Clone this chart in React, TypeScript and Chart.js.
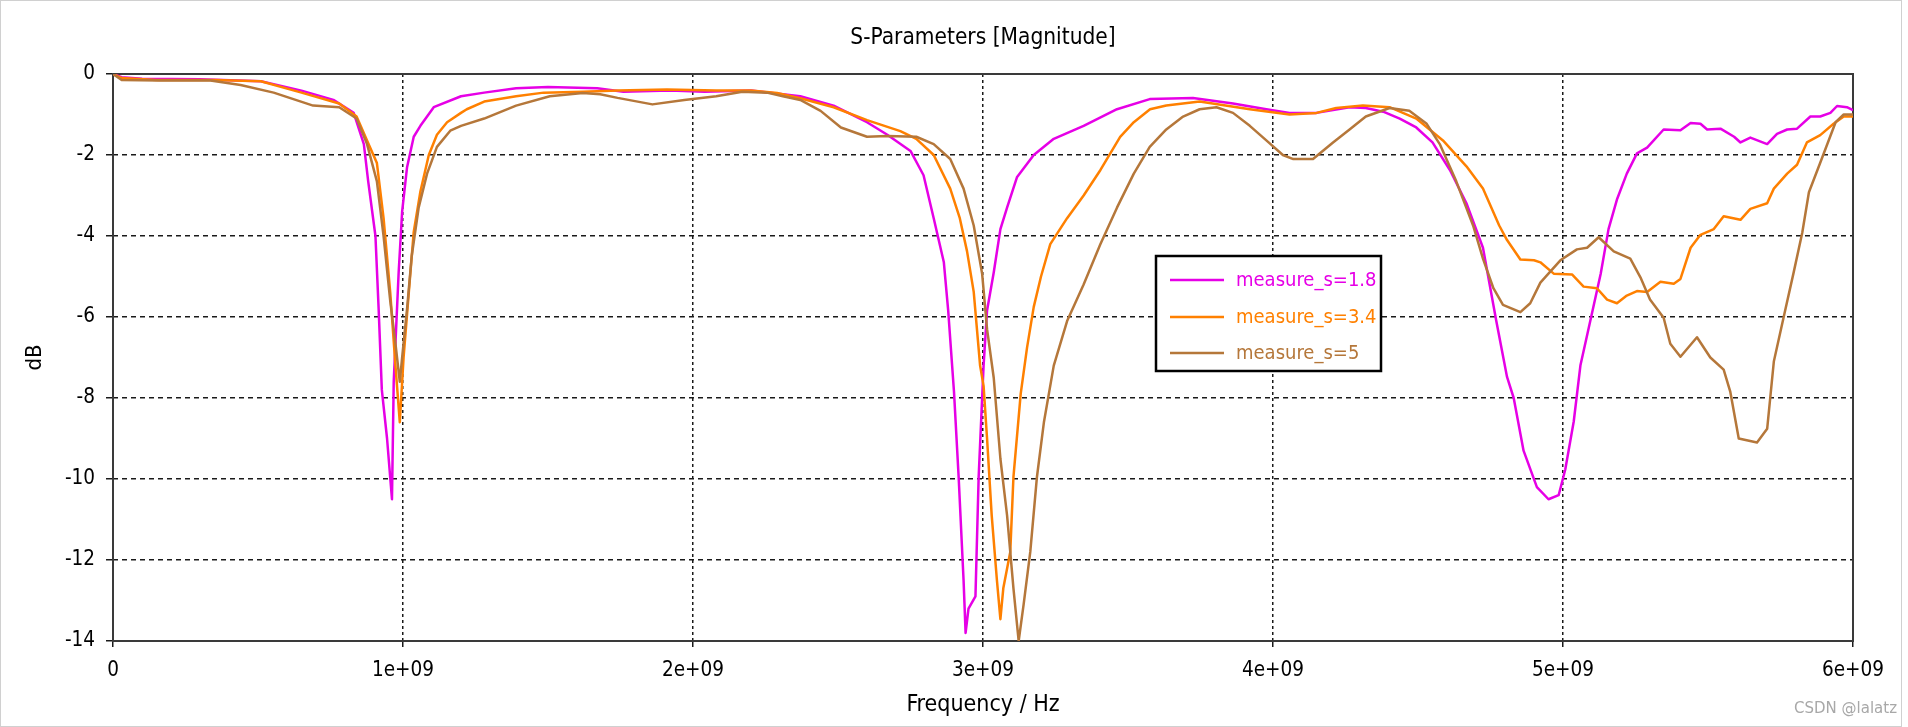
import React, { useEffect, useRef } from 'react';
import { Chart, registerables } from 'chart.js';

Chart.register(...registerables);

// ---------- data (frequency in GHz, magnitude in dB) ----------
const seriesLabels = ['measure_s=1.8', 'measure_s=3.4', 'measure_s=5'];
const seriesColors = ['#E600E6', '#FF8000', '#B5773A'];

const s18Freq = [0, 0.03, 0.1, 0.3, 0.51, 0.65, 0.76, 0.83, 0.865, 0.88, 0.905, 0.916, 0.927, 0.945, 0.962, 0.968, 0.985, 0.997, 1.014, 1.037, 1.06, 1.106, 1.2, 1.28, 1.39, 1.5, 1.67, 1.76, 1.92, 2.04, 2.2, 2.31, 2.37, 2.485, 2.6, 2.67, 2.75, 2.795, 2.83, 2.865, 2.88, 2.9, 2.916, 2.933, 2.94, 2.95, 2.974, 2.985, 3.002, 3.014, 3.037, 3.06, 3.083, 3.117, 3.175, 3.244, 3.347, 3.462, 3.575, 3.724, 3.862, 3.977, 4.057, 4.15, 4.264, 4.32, 4.38, 4.437, 4.494, 4.55, 4.61, 4.667, 4.724, 4.77, 4.807, 4.83, 4.864, 4.91, 4.95, 4.985, 5.008, 5.037, 5.06, 5.094, 5.13, 5.157, 5.186, 5.22, 5.255, 5.29, 5.347, 5.405, 5.44, 5.474, 5.497, 5.543, 5.59, 5.612, 5.646, 5.704, 5.738, 5.773, 5.807, 5.853, 5.887, 5.922, 5.945, 5.979, 6.0];
const s18Db = [0, -0.08, -0.12, -0.13, -0.18, -0.41, -0.64, -0.96, -1.73, -2.65, -4.0, -5.8, -7.8, -9.0, -10.5, -7.6, -4.9, -3.4, -2.3, -1.55, -1.28, -0.82, -0.55, -0.46, -0.35, -0.32, -0.35, -0.44, -0.41, -0.44, -0.41, -0.5, -0.55, -0.78, -1.19, -1.5, -1.9, -2.5, -3.56, -4.65, -5.84, -7.85, -9.95, -12.5, -13.8, -13.2, -12.9, -9.95, -7.2, -5.84, -4.9, -3.83, -3.3, -2.55, -2.0, -1.6, -1.28, -0.87, -0.62, -0.59, -0.73, -0.87, -0.96, -0.96, -0.82, -0.84, -0.93, -1.1, -1.32, -1.69, -2.37, -3.19, -4.29, -6.1, -7.48, -8.0, -9.3, -10.2, -10.5, -10.4, -9.76, -8.58, -7.2, -6.1, -4.93, -3.83, -3.1, -2.46, -1.96, -1.82, -1.37, -1.39, -1.21, -1.23, -1.37, -1.35, -1.55, -1.69, -1.57, -1.73, -1.48, -1.37, -1.35, -1.05, -1.05, -0.96, -0.79, -0.82, -0.89];

const s34Freq = [0, 0.03, 0.15, 0.35, 0.51, 0.65, 0.78, 0.84, 0.876, 0.91, 0.933, 0.956, 0.974, 0.989, 1.002, 1.02, 1.037, 1.06, 1.089, 1.117, 1.152, 1.2, 1.22, 1.28, 1.39, 1.485, 1.62, 1.74, 1.91, 2.08, 2.2, 2.29, 2.37, 2.485, 2.6, 2.715, 2.77, 2.83, 2.887, 2.92, 2.945, 2.968, 2.99, 3.002, 3.014, 3.03, 3.048, 3.06, 3.07, 3.094, 3.105, 3.13, 3.152, 3.175, 3.2, 3.232, 3.29, 3.347, 3.405, 3.473, 3.52, 3.576, 3.632, 3.747, 3.92, 4.057, 4.15, 4.218, 4.31, 4.402, 4.494, 4.586, 4.667, 4.724, 4.78, 4.807, 4.853, 4.9, 4.922, 4.968, 5.031, 5.071, 5.117, 5.152, 5.186, 5.22, 5.255, 5.29, 5.336, 5.382, 5.405, 5.44, 5.474, 5.52, 5.554, 5.612, 5.646, 5.704, 5.727, 5.773, 5.807, 5.841, 5.887, 5.933, 5.968, 6.0];
const s34Db = [0, -0.1, -0.15, -0.15, -0.18, -0.46, -0.73, -1.05, -1.64, -2.2, -3.56, -5.4, -7.2, -8.6, -7.0, -5.4, -3.9, -2.9, -2.0, -1.5, -1.19, -0.96, -0.87, -0.68, -0.55, -0.46, -0.44, -0.41, -0.38, -0.41, -0.41, -0.47, -0.6, -0.82, -1.14, -1.41, -1.6, -2.0, -2.83, -3.56, -4.38, -5.38, -7.2, -7.7, -9.0, -10.9, -12.5, -13.46, -12.7, -11.8, -9.95, -7.9, -6.75, -5.75, -5.0, -4.2, -3.56, -3.0, -2.37, -1.55, -1.19, -0.87, -0.78, -0.68, -0.87, -1.0, -0.96, -0.84, -0.78, -0.82, -1.1, -1.64, -2.28, -2.83, -3.74, -4.1, -4.58, -4.6, -4.65, -4.93, -4.95, -5.25, -5.29, -5.57, -5.66, -5.47, -5.36, -5.38, -5.13, -5.18, -5.06, -4.29, -3.97, -3.83, -3.51, -3.6, -3.33, -3.19, -2.83, -2.46, -2.24, -1.69, -1.51, -1.23, -1.05, -1.05];

const s5Freq = [0, 0.03, 0.16, 0.336, 0.44, 0.554, 0.69, 0.78, 0.84, 0.876, 0.91, 0.933, 0.956, 0.974, 0.989, 0.997, 1.014, 1.03, 1.054, 1.083, 1.117, 1.163, 1.2, 1.28, 1.39, 1.506, 1.62, 1.68, 1.74, 1.86, 1.97, 2.08, 2.17, 2.255, 2.31, 2.37, 2.44, 2.51, 2.6, 2.67, 2.77, 2.83, 2.887, 2.933, 2.968, 2.997, 3.014, 3.037, 3.06, 3.083, 3.105, 3.123, 3.14, 3.163, 3.186, 3.21, 3.244, 3.29, 3.347, 3.405, 3.462, 3.52, 3.575, 3.632, 3.69, 3.747, 3.805, 3.862, 3.92, 3.977, 4.034, 4.07, 4.138, 4.207, 4.264, 4.32, 4.402, 4.47, 4.53, 4.575, 4.632, 4.69, 4.724, 4.76, 4.793, 4.853, 4.887, 4.922, 4.956, 4.991, 5.048, 5.083, 5.123, 5.175, 5.232, 5.267, 5.3, 5.347, 5.37, 5.405, 5.462, 5.508, 5.554, 5.577, 5.606, 5.669, 5.704, 5.727, 5.761, 5.796, 5.825, 5.848, 5.887, 5.94, 5.968, 6.0];
const s5Db = [0, -0.15, -0.16, -0.16, -0.27, -0.46, -0.78, -0.82, -1.1, -1.73, -2.65, -4.0, -5.6, -6.66, -7.6, -7.0, -5.8, -4.5, -3.3, -2.46, -1.8, -1.4, -1.28, -1.1, -0.78, -0.55, -0.47, -0.5, -0.59, -0.75, -0.64, -0.55, -0.44, -0.46, -0.55, -0.64, -0.91, -1.32, -1.55, -1.53, -1.55, -1.73, -2.1, -2.83, -3.74, -4.93, -6.3, -7.5, -9.5, -10.9, -12.7, -14.0, -13.1, -11.8, -9.95, -8.6, -7.2, -6.1, -5.2, -4.2, -3.3, -2.46, -1.8, -1.37, -1.05, -0.87, -0.82, -0.96, -1.28, -1.64, -2.0, -2.1, -2.1, -1.69, -1.37, -1.05, -0.84, -0.91, -1.23, -1.73, -2.65, -3.74, -4.56, -5.29, -5.7, -5.88, -5.66, -5.15, -4.88, -4.6, -4.33, -4.29, -4.03, -4.38, -4.56, -5.02, -5.57, -6.02, -6.66, -6.98, -6.5, -7.0, -7.3, -7.85, -9.0, -9.1, -8.76, -7.1, -6.0, -4.88, -3.92, -2.92, -2.19, -1.19, -1.0, -1.0];

const xTickLabels = ['0', '1e+09', '2e+09', '3e+09', '4e+09', '5e+09', '6e+09'];
const yTickLabels = ['0', '-2', '-4', '-6', '-8', '-10', '-12', '-14'];

const titleText = 'S-Parameters [Magnitude]';
const xTitle = 'Frequency / Hz';
const yTitle = 'dB';
const watermark = 'CSDN @lalatz';

const FONT = "'DejaVu Sans Condensed', 'DejaVu Sans', sans-serif";
const WM_FONT = "'DejaVu Sans', sans-serif";

const toPoints = (f: number[], d: number[]) => f.map((v, i) => ({ x: v * 1e9, y: d[i] }));

export default function App() {
  const ref = useRef<HTMLCanvasElement | null>(null);

  useEffect(() => {
    if (!ref.current) return;

    const titlePlugin = {
      id: 'customTitle',
      afterDraw(chart: any) {
        const { ctx, chartArea } = chart;
        ctx.save();
        ctx.font = `22.5px ${FONT}`;
        ctx.fillStyle = '#000';
        ctx.textAlign = 'center';
        ctx.textBaseline = 'middle';
        ctx.fillText(titleText, (chartArea.left + chartArea.right) / 2, 38);
        ctx.restore();
      },
    };

    const framePlugin = {
      id: 'frame',
      beforeDatasetsDraw(chart: any) {
        const { ctx, chartArea } = chart;
        ctx.save();
        ctx.strokeStyle = '#3a3a3a';
        ctx.lineWidth = 2;
        ctx.strokeRect(chartArea.left, chartArea.top, chartArea.right - chartArea.left, chartArea.bottom - chartArea.top);
        ctx.restore();
      },
    };

    const legendPlugin = {
      id: 'boxLegend',
      afterDatasetsDraw(chart: any) {
        const { ctx } = chart;
        ctx.save();
        ctx.font = `20px ${FONT}`;
        const left = 1156;
        const top = 256;
        const right = 1381;
        const bottom = 371;
        const rowY = [280, 317, 353];
        const textX = 1236;
        ctx.fillStyle = '#fff';
        ctx.fillRect(left, top, right - left, bottom - top);
        ctx.strokeStyle = '#000';
        ctx.lineWidth = 2.5;
        ctx.strokeRect(left, top, right - left, bottom - top);
        chart.data.datasets.forEach((ds: any, i: number) => {
          ctx.strokeStyle = ds.borderColor;
          ctx.lineWidth = 2.5;
          ctx.beginPath();
          ctx.moveTo(1170, rowY[i]);
          ctx.lineTo(1224, rowY[i]);
          ctx.stroke();
          ctx.fillStyle = ds.borderColor;
          ctx.textAlign = 'left';
          ctx.textBaseline = 'middle';
          ctx.fillText(ds.label, textX, rowY[i] + 1);
        });
        ctx.restore();
      },
    };

    const decoPlugin = {
      id: 'deco',
      afterDraw(chart: any) {
        const { ctx } = chart;
        ctx.save();
        ctx.strokeStyle = '#d0d0d0';
        ctx.lineWidth = 1;
        ctx.strokeRect(0.5, 0.5, 1901, 726);
        ctx.font = `15px ${WM_FONT}`;
        ctx.fillStyle = '#a8a8a8';
        ctx.textAlign = 'right';
        ctx.textBaseline = 'middle';
        ctx.fillText(watermark, 1897, 709);
        ctx.restore();
      },
    };

    const chart = new Chart(ref.current, {
      type: 'line',
      data: {
        datasets: [
          { label: seriesLabels[0], data: toPoints(s18Freq, s18Db), borderColor: seriesColors[0], order: 3 },
          { label: seriesLabels[1], data: toPoints(s34Freq, s34Db), borderColor: seriesColors[1], order: 2 },
          { label: seriesLabels[2], data: toPoints(s5Freq, s5Db), borderColor: seriesColors[2], order: 1 },
        ],
      },
      options: {
        animation: false,
        responsive: false,
        devicePixelRatio: 1,
        events: [],
        layout: { padding: { top: 74, right: 55, left: 0, bottom: 0 } },
        elements: {
          point: { radius: 0 },
          line: { borderWidth: 2.5, tension: 0, borderJoinStyle: 'round', fill: false },
        },
        plugins: {
          legend: { display: false },
          title: { display: false },
          tooltip: { enabled: false },
        },
        font: { family: FONT, size: 20 },
        scales: {
          x: {
            type: 'linear',
            min: 0,
            max: 6e9,
            afterFit: (s: any) => { s.height = 86; },
            afterBuildTicks: (s: any) => { s.ticks = xTickLabels.map((_, i) => ({ value: i * 1e9 })); },
            ticks: {
              color: '#000',
              font: { family: FONT, size: 20.5 },
              padding: 11,
              maxRotation: 0,
              autoSkip: false,
              callback: (_v: any, i: number) => xTickLabels[i],
            },
            grid: {
              color: (c: any) => (c.index === 0 || c.index === xTickLabels.length - 1 ? 'rgba(0,0,0,0)' : '#1a1a1a'),
              lineWidth: 1.5,
              tickLength: 6,
              tickColor: '#1a1a1a',
              tickWidth: 1.5,
            },
            border: { display: false, dash: [3, 3] },
            title: { display: true, text: xTitle, color: '#000', font: { family: FONT, size: 23 }, padding: { top: 0, bottom: 8 } },
          },
          y: {
            type: 'linear',
            min: -14,
            max: 0,
            afterFit: (s: any) => { s.width = 113; },
            afterBuildTicks: (s: any) => { s.ticks = yTickLabels.map((_, i) => ({ value: -2 * i })); },
            ticks: {
              color: '#000',
              font: { family: FONT, size: 20.5 },
              padding: 11,
              autoSkip: false,
              callback: (v: any) => yTickLabels[Math.round(-v / 2)],
            },
            grid: {
              color: (c: any) => (c.index === 0 || c.index === yTickLabels.length - 1 ? 'rgba(0,0,0,0)' : '#1a1a1a'),
              lineWidth: 1.5,
              tickLength: 7,
              tickColor: '#1a1a1a',
              tickWidth: 1.5,
            },
            border: { display: false, dash: [5, 4] },
            title: { display: true, text: yTitle, color: '#000', font: { family: FONT, size: 22 }, padding: { top: 22, bottom: 0 } },
          },
        },
      } as any,
      plugins: [titlePlugin, framePlugin, legendPlugin, decoPlugin],
    });

    return () => chart.destroy();
  }, []);

  return (
    <div style={{ position: 'absolute', left: 0, top: 0, width: 1908, height: 727, background: '#fff' }}>
      <canvas ref={ref} width={1908} height={727} style={{ display: 'block', width: 1908, height: 727 }} />
    </div>
  );
}
